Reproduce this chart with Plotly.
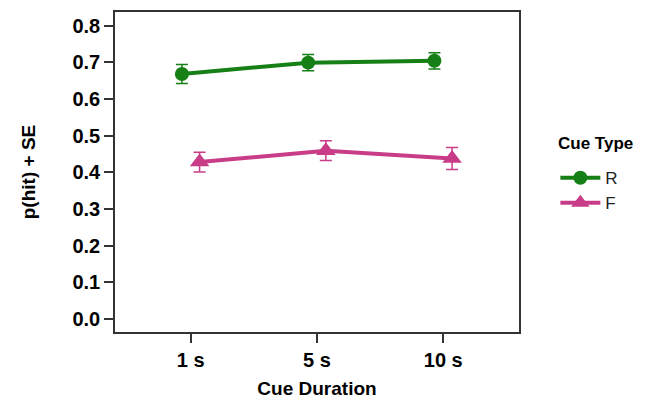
import plotly.graph_objects as go

categories = ["1 s", "5 s", "10 s"]
r_vals = [0.668, 0.699, 0.704]
r_se = [0.026, 0.022, 0.022]
f_vals = [0.428, 0.459, 0.438]
f_se = [0.027, 0.027, 0.030]
y_ticks = [0.0, 0.1, 0.2, 0.3, 0.4, 0.5, 0.6, 0.7, 0.8]

green = "#168016"
pink = "#C83C88"
dodge = 0.07
xpos = [i + 1 for i in range(len(categories))]

fig = go.Figure()
fig.add_trace(go.Scatter(
    x=[p - dodge for p in xpos], y=r_vals, name="R", mode="lines+markers",
    line=dict(color=green, width=4),
    marker=dict(symbol="circle", size=14, color=green),
    error_y=dict(type="data", array=r_se, color=green, thickness=1.5, width=6),
))
fig.add_trace(go.Scatter(
    x=[p + dodge for p in xpos], y=f_vals, name="F", mode="lines+markers",
    line=dict(color=pink, width=4),
    marker=dict(symbol="triangle-up", size=17, color=pink),
    error_y=dict(type="data", array=f_se, color=pink, thickness=1.5, width=6),
))

font_family = "Liberation Sans, Arial, sans-serif"
fig.update_layout(
    width=646, height=400,
    margin=dict(l=115, r=127, t=12, b=68),
    plot_bgcolor="white", paper_bgcolor="white",
    font=dict(family=font_family, color="black"),
    legend=dict(
        x=1.09, y=0.537, xanchor="left", yanchor="top",
        font=dict(size=17, color="#222"), tracegroupgap=0, itemwidth=40,
    ),
    annotations=[dict(
        text="<b>Cue Type</b>", xref="paper", yref="paper", x=1.092, y=0.59,
        xanchor="left", yanchor="middle", showarrow=False, font=dict(size=17),
    )],
    xaxis=dict(
        range=[0.4, 3.6], tickvals=xpos, ticktext=["<b>%s</b>" % c for c in categories],
        showline=True, linecolor="#333", linewidth=1.5, mirror=True,
        ticks="outside", ticklen=9, tickwidth=2, tickcolor="#333",
        showgrid=False, zeroline=False, tickfont=dict(size=20), automargin=False,
        title=dict(text="<b>Cue Duration</b>", font=dict(size=19), standoff=12),
    ),
    yaxis=dict(
        range=[-0.035, 0.837], tickvals=y_ticks,
        ticktext=["<b>%.1f</b>" % v for v in y_ticks],
        showline=True, linecolor="#333", linewidth=1.5, mirror=True,
        ticks="outside", ticklen=9, tickwidth=2, tickcolor="#333",
        showgrid=False, zeroline=False, tickfont=dict(size=20), automargin=False,
        title=dict(text="<b>p(hit) + SE</b>", font=dict(size=19), standoff=32),
    ),
)

fig.write_html("out.html", config={"displayModeBar": False},
               post_script="document.body.style.margin='0';")
